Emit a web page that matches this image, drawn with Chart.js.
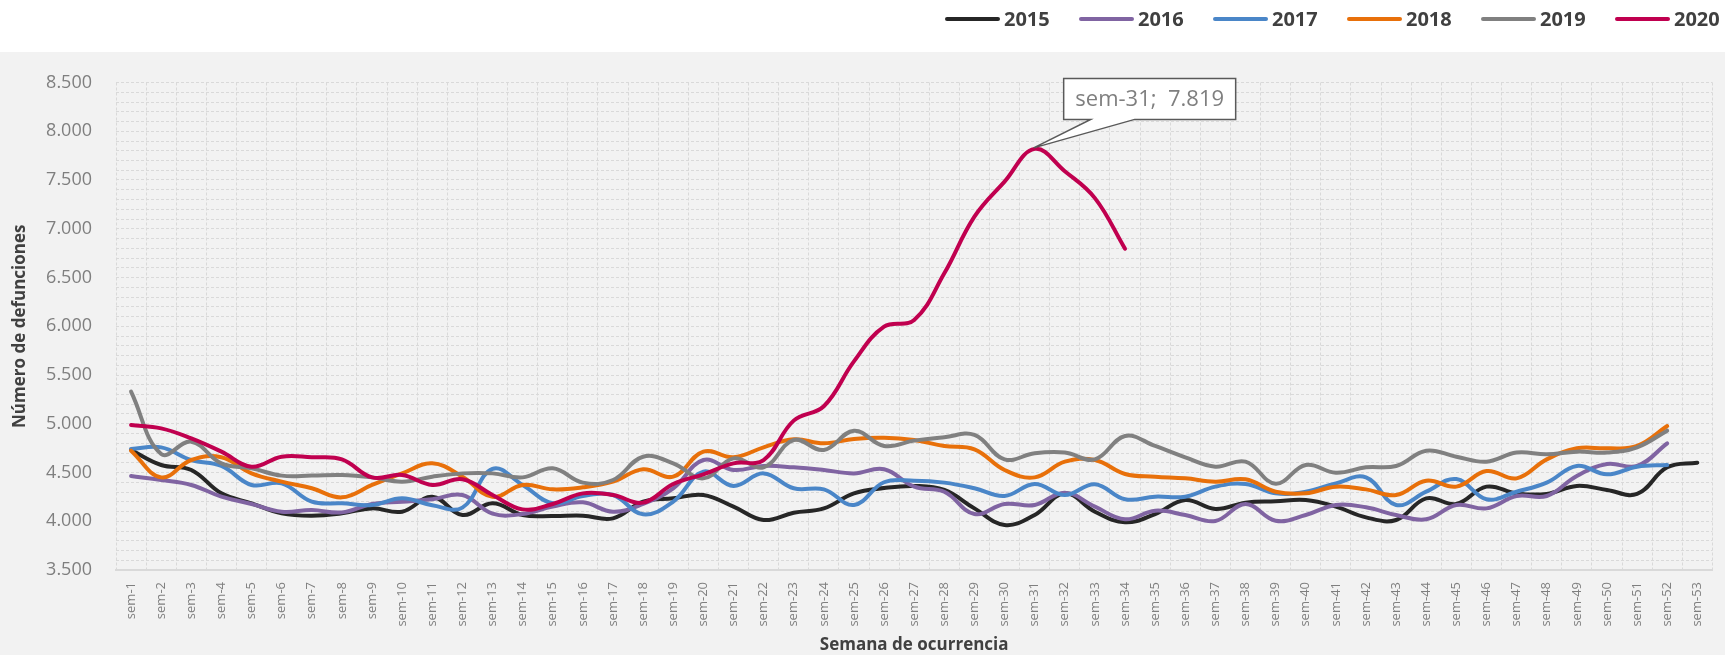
<!DOCTYPE html>
<html>
<head>
<meta charset="utf-8">
<script src="https://cdn.jsdelivr.net/npm/chart.js@4.4.1/dist/chart.umd.min.js"></script>
<style>
  html, body { margin: 0; padding: 0; background: #ffffff; }
  #wrap { position: relative; width: 1725px; height: 655px; overflow: hidden; }
  #c { position: absolute; left: 0; top: 0; }
  #legend { position: absolute; left: 945px; top: 9px; height: 20px; display: flex;
            font-family: 'Open Sans', sans-serif; font-weight: 700; font-size: 20px; color: #404040; }
  .item { width: 134px; height: 20px; display: flex; align-items: center; white-space: nowrap; }
  .sw { width: 55px; height: 4px; border-radius: 2px; margin-right: 4px; flex: none; }
  .tx { line-height: 20px; }
</style>
</head>
<body>
<div id="wrap">
  <canvas id="c" width="1725" height="655"></canvas>
  <div id="legend"></div>
</div>
<script>
// ---- data ----
const weeks = ['sem-1','sem-2','sem-3','sem-4','sem-5','sem-6','sem-7','sem-8','sem-9','sem-10',
  'sem-11','sem-12','sem-13','sem-14','sem-15','sem-16','sem-17','sem-18','sem-19','sem-20',
  'sem-21','sem-22','sem-23','sem-24','sem-25','sem-26','sem-27','sem-28','sem-29','sem-30',
  'sem-31','sem-32','sem-33','sem-34','sem-35','sem-36','sem-37','sem-38','sem-39','sem-40',
  'sem-41','sem-42','sem-43','sem-44','sem-45','sem-46','sem-47','sem-48','sem-49','sem-50',
  'sem-51','sem-52','sem-53'];

const seriesNames = ['2015','2016','2017','2018','2019','2020'];

const d2015 = [4731,4577,4526,4286,4184,4081,4057,4081,4132,4098,
  4252,4064,4184,4064,4054,4057,4030,4201,4235,4269,
  4150,4013,4088,4132,4286,4340,4362,4321,4132,3962,
  4064,4286,4098,3989,4074,4218,4126,4191,4205,4218,
  4150,4040,4013,4235,4177,4355,4286,4280,4362,4321,
  4280,4553,4601];

const d2016 = [4464,4423,4372,4252,4177,4098,4115,4091,4177,4201,
  4225,4269,4078,4074,4150,4194,4098,4177,4338,4628,
  4526,4567,4553,4526,4491,4533,4355,4303,4074,4177,
  4167,4293,4150,4020,4108,4064,4003,4177,4006,4064,
  4167,4143,4064,4020,4167,4132,4259,4259,4464,4587,
  4567,4799,null];

const d2017 = [4741,4758,4628,4567,4372,4389,4201,4184,4167,4235,
  4165,4140,4538,4372,4184,4259,4269,4071,4201,4509,
  4362,4491,4338,4327,4167,4400,4416,4396,4338,4259,
  4382,4269,4379,4225,4252,4252,4355,4382,4286,4303,
  4389,4450,4167,4303,4433,4225,4303,4396,4567,4481,
  4560,4577,null];

const d2018 = [4724,4450,4628,4656,4491,4406,4338,4245,4372,4491,
  4594,4457,4250,4372,4327,4348,4406,4533,4457,4714,
  4656,4758,4840,4799,4844,4857,4833,4772,4738,4526,
  4450,4611,4628,4485,4457,4440,4406,4430,4303,4286,
  4355,4327,4269,4416,4355,4515,4440,4635,4748,4748,
  4772,4977,null];

const d2019 = [5329,4690,4816,4594,4543,4468,4468,4474,4450,4406,
  4457,4491,4491,4450,4543,4396,4423,4662,4594,4440,
  4645,4553,4833,4731,4929,4772,4827,4861,4885,4635,
  4697,4704,4635,4874,4772,4656,4560,4611,4385,4577,
  4498,4553,4567,4724,4662,4611,4704,4686,4714,4704,
  4758,4929,null];

const d2020 = [4987,4953,4850,4714,4560,4662,4656,4635,4450,4474,
  4372,4430,4270,4122,4177,4286,4269,4191,4382,4481,
  4594,4628,5032,5180,5640,5996,6064,6543,7124,7483,
  7819,7590,7314,6795,null,null,null,null,null,null,
  null,null,null,null,null,null,null,null,null,null,
  null,null,null];

const yMin = 3500, yMax = 8500, yMajor = 500, yMinor = 100;

// ---- styles ----
const colors = ['#262626','#8064A2','#4A86C8','#E8700A','#808080','#C0004F'];
const FONT = "'Open Sans', sans-serif";
const seriesData = [d2015, d2016, d2017, d2018, d2019, d2020];

function fmt(v) { return String(v).replace(/\B(?=(\d{3})+(?!\d))/g, '.'); }

// legend (HTML, real text)
const legendEl = document.getElementById('legend');
seriesNames.forEach((n, i) => {
  const it = document.createElement('div'); it.className = 'item';
  const sw = document.createElement('span'); sw.className = 'sw'; sw.style.background = colors[i];
  const tx = document.createElement('span'); tx.className = 'tx'; tx.textContent = n;
  it.appendChild(sw); it.appendChild(tx); legendEl.appendChild(it);
});

const bgPlugin = {
  id: 'bg',
  beforeDraw(chart) {
    const c = chart.ctx; c.save();
    c.fillStyle = '#f2f2f2';
    c.fillRect(0, 52, chart.width, chart.height - 52);
    c.restore();
  }
};

const calloutPlugin = {
  id: 'callout',
  afterDatasetsDraw(chart) {
    const dsIndex = seriesNames.length - 1;
    let idx = 0;
    d2020.forEach((v, i) => { if (v !== null && v > d2020[idx]) idx = i; });
    const pt = chart.getDatasetMeta(dsIndex).data[idx];
    const x = pt.x, y = pt.y;
    const ctx = chart.ctx;
    const L = x + 29, T = y - 70.5, W = 172, H = 41;
    ctx.save();
    ctx.beginPath();
    ctx.moveTo(L, T);
    ctx.lineTo(L + W, T);
    ctx.lineTo(L + W, T + H);
    ctx.lineTo(x + 100, T + H);
    ctx.lineTo(x - 1, y - 1);
    ctx.lineTo(x + 56, T + H);
    ctx.lineTo(L, T + H);
    ctx.closePath();
    ctx.fillStyle = '#ffffff'; ctx.fill();
    ctx.strokeStyle = '#595959'; ctx.lineWidth = 1.5; ctx.lineJoin = 'miter'; ctx.stroke();
    ctx.fillStyle = '#7f7f7f';
    ctx.font = '22px ' + FONT;
    ctx.textAlign = 'center'; ctx.textBaseline = 'middle';
    ctx.fillText(weeks[idx] + ';  ' + fmt(d2020[idx]), L + W / 2, T + H / 2 + 1);
    ctx.restore();
  }
};

const datasets = seriesNames.map((n, i) => ({
  label: n,
  data: seriesData[i],
  borderColor: colors[i],
  backgroundColor: colors[i],
  borderWidth: 4,
  pointRadius: 0,
  pointHoverRadius: 0,
  tension: 0.4,
  fill: false,
  borderCapStyle: 'round',
  borderJoinStyle: 'round',
  order: seriesNames.length - i
}));

new Chart(document.getElementById('c'), {
  type: 'line',
  data: { labels: weeks, datasets },
  plugins: [bgPlugin, calloutPlugin],
  options: {
    responsive: false,
    animation: false,
    devicePixelRatio: 1,
    layout: { padding: { top: 82.5, right: 9, bottom: 0, left: 0 } },
    plugins: { legend: { display: false }, tooltip: { enabled: false } },
    scales: {
      x: {
        type: 'category',
        offset: true,
        afterFit(s) { s.height = 85; },
        ticks: { autoSkip: false, minRotation: 90, maxRotation: 90, padding: 12,
                 color: '#7f7f7f', font: { family: FONT, size: 13 } },
        grid: { offset: true, color: '#d9d9d9', lineWidth: 1, drawTicks: false },
        border: { display: true, color: '#d9d9d9', width: 2, dash: [3, 2] },
        title: { display: true, text: 'Semana de ocurrencia', color: '#404040',
                 font: { family: FONT, size: 17, weight: 'bold' }, padding: { top: 0, bottom: 0 } }
      },
      y: {
        min: yMin, max: yMax,
        afterFit(s) { s.width = 116; },
        ticks: { stepSize: yMinor, autoSkip: false, padding: 24, color: '#7f7f7f',
                 font: { family: FONT, size: 18 },
                 callback: (v) => (v % yMajor === 0 ? fmt(v) : '') },
        grid: { color: '#d9d9d9', lineWidth: 1, drawTicks: false },
        border: { display: false, dash: [3, 2] },
        title: { display: true, text: 'Número de defunciones', color: '#404040',
                 font: { family: FONT, size: 17, weight: 'bold' }, padding: { top: 10, bottom: 0 } }
      }
    }
  }
});
</script>
</body>
</html>
